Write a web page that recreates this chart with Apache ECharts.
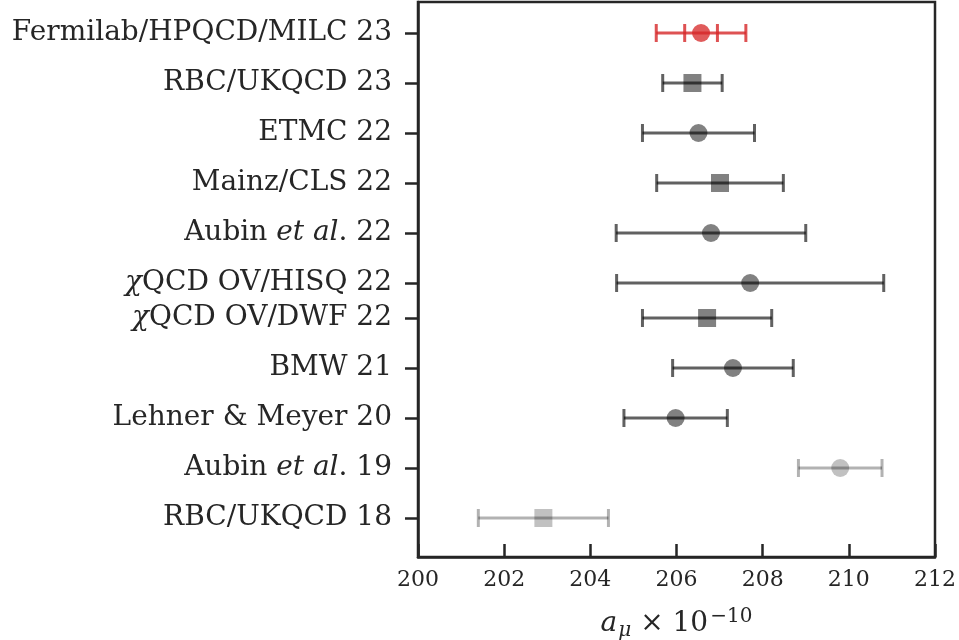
<!DOCTYPE html>
<html>
<head>
<meta charset="utf-8">
<script src="https://cdn.jsdelivr.net/npm/echarts@6/dist/echarts.min.js"></script>
<style>
html,body{margin:0;padding:0;background:#fff;}
#chart{width:959px;height:640px;}
</style>
</head>
<body>
<div id="chart"></div>
<script>
// ---- data (top to bottom) ----
const labels = ['Fermilab/HPQCD/MILC 23','RBC/UKQCD 23','ETMC 22','Mainz/CLS 22','Aubin et al. 22','χQCD OV/HISQ 22','χQCD OV/DWF 22','BMW 21','Lehner & Meyer 20','Aubin et al. 19','RBC/UKQCD 18'];
const yPositions = [9.7, 8.7, 7.7, 6.7, 5.7, 4.7, 4.0, 3.0, 2.0, 1.0, 0.0];
const values = [206.57, 206.37, 206.51, 207.01, 206.80, 207.71, 206.71, 207.31, 205.98, 209.80, 202.91];
const totalErr = [1.04, 0.69, 1.30, 1.47, 2.20, 3.10, 1.50, 1.40, 1.20, 0.97, 1.51];
const innerErr = [0.38, 0, 0, 0, 0, 0, 0, 0, 0, 0, 0];
const markers = ['circle','rect','circle','rect','circle','circle','rect','circle','circle','circle','rect'];
const groups = ['new','old','old','old','old','old','old','old','old','older','older'];
const xTicks = [200, 202, 204, 206, 208, 210, 212];

const markerColor = {new:'rgba(214,39,40,0.95)', old:'rgba(0,0,0,0.62)', older:'rgba(0,0,0,0.3)'};
const lineColor = {new:'rgba(214,39,40,0.8)', old:'rgba(0,0,0,0.62)', older:'rgba(0,0,0,0.3)'};

function fmtLabel(name){
  if (name.indexOf('et al.') >= 0) {
    const parts = name.split('et al.');
    return '{n|' + parts[0] + '}{i|et al}{n|.' + parts[1] + '}';
  }
  if (name.charAt(0) === 'χ') {
    return '{i|χ}{n|' + name.slice(1) + '}';
  }
  return '{n|' + name + '}';
}
const labelByY = {};
yPositions.forEach((y, i) => { labelByY[y.toFixed(2)] = fmtLabel(labels[i]); });

const errData = values.map((v, i) => [v, yPositions[i], totalErr[i], innerErr[i]]);
const ptData = values.map((v, i) => ({
  value: [v, yPositions[i]],
  symbol: markers[i],
  itemStyle: {color: markerColor[groups[i]]}
}));

const FONT = '"DejaVu Serif", "Liberation Serif", serif';
const TXT = '#262626';
const chart = echarts.init(document.getElementById('chart'), null, {renderer:'canvas'});
chart.setOption({
  animation: false,
  backgroundColor: '#fff',
  grid: {left: 418, right: 24, top: 2, bottom: 83, outerBoundsMode: 'none', containLabel: false,
         show: true, borderColor: TXT, borderWidth: 2.5, backgroundColor: 'transparent'},
  xAxis: {
    type: 'value', min: xTicks[0], max: xTicks[xTicks.length-1], interval: 2,
    axisLine: {show: true, onZero: false, lineStyle: {color: TXT, width: 2.5}},
    axisTick: {show: true, inside: true, length: 13, lineStyle: {color: TXT, width: 2.5}},
    axisLabel: {color: TXT, fontFamily: FONT, fontSize: 22, margin: 12, showMinLabel: true, showMaxLabel: true},
    splitLine: {show: false},
    name: '{a|a}{mu|μ}{n| × 10}{s|−10}',
    nameLocation: 'middle', nameGap: 50,
    nameTextStyle: {
      color: TXT, fontFamily: FONT,
      rich: {
        a: {fontSize: 28, fontStyle: 'italic', fontFamily: FONT, color: TXT},
        mu: {fontSize: 20, fontStyle: 'italic', fontFamily: FONT, color: TXT, padding: [14, 0, 0, 1]},
        n: {fontSize: 28, fontFamily: FONT, color: TXT},
        s: {fontSize: 20, fontFamily: FONT, color: TXT, padding: [0, 0, 14, 2]}
      }
    }
  },
  yAxis: {
    type: 'value', min: -0.78, max: 10.32,
    axisLine: {show: true, lineStyle: {color: TXT, width: 2.5}},
    axisTick: {show: true, inside: false, length: 13, customValues: yPositions, lineStyle: {color: TXT, width: 2.5}},
    axisLabel: {
      customValues: yPositions, margin: 26,
      formatter: (v) => labelByY[Number(v).toFixed(2)] || '',
      rich: {
        n: {fontSize: 28, fontFamily: FONT, color: TXT},
        i: {fontSize: 28, fontFamily: FONT, fontStyle: 'italic', color: TXT}
      }
    },
    splitLine: {show: false}
  },
  series: [
    {
      type: 'custom',
      data: errData,
      encode: {x: 0, y: 1},
      z: 2,
      renderItem: function (params, api) {
        const i = params.dataIndex;
        const v = api.value(0), y = api.value(1), e = api.value(2), se = api.value(3);
        const col = lineColor[groups[i]];
        const p0 = api.coord([v - e, y]);
        const p1 = api.coord([v + e, y]);
        const h = 9;
        const st = {stroke: col, lineWidth: 3, fill: null};
        const children = [
          {type: 'line', shape: {x1: p0[0], y1: p0[1], x2: p1[0], y2: p1[1]}, style: st},
          {type: 'line', shape: {x1: p0[0], y1: p0[1]-h, x2: p0[0], y2: p0[1]+h}, style: st},
          {type: 'line', shape: {x1: p1[0], y1: p1[1]-h, x2: p1[0], y2: p1[1]+h}, style: st}
        ];
        if (se > 0) {
          const q0 = api.coord([v - se, y]);
          const q1 = api.coord([v + se, y]);
          children.push({type: 'line', shape: {x1: q0[0], y1: q0[1]-h, x2: q0[0], y2: q0[1]+h}, style: st});
          children.push({type: 'line', shape: {x1: q1[0], y1: q1[1]-h, x2: q1[0], y2: q1[1]+h}, style: st});
        }
        return {type: 'group', children: children};
      }
    },
    {
      type: 'scatter',
      data: ptData,
      symbolSize: 18,
      z: 3
    }
  ]
});
</script>
</body>
</html>
